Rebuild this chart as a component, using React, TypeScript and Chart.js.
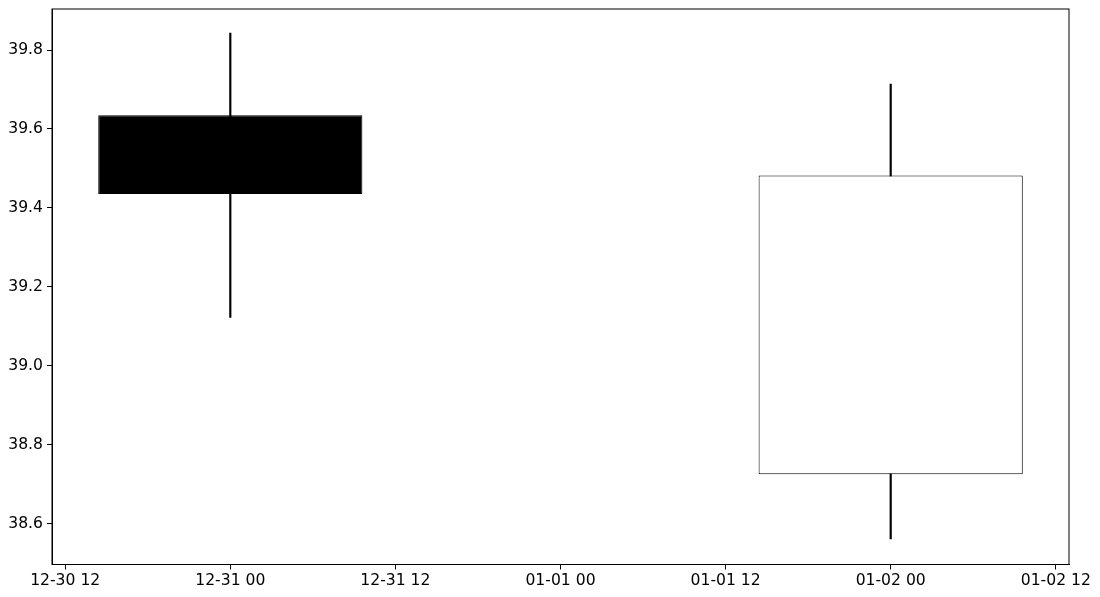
import { useEffect, useRef } from 'react'
import { Chart, registerables } from 'chart.js'

Chart.register(...registerables)

// hours measured from 12-31 00:00
const candleHours = [0, 48]
const openPrices = [39.635, 38.725]
const closePrices = [39.435, 39.482]
const highPrices = [39.843, 39.714]
const lowPrices = [39.122, 38.561]

const xTickHours = [-12, 0, 12, 24, 36, 48, 60]
const xTickLabels = ['12-30 12', '12-31 00', '12-31 12', '01-01 00', '01-01 12', '01-02 00', '01-02 12']
const yTickValues = [38.6, 38.8, 39.0, 39.2, 39.4, 39.6, 39.8]

const FONT = { family: "'DejaVu Sans', sans-serif", size: 15.6 }

const framePlugin = {
  id: 'frame',
  afterDraw(chart: Chart) {
    const { ctx, chartArea } = chart
    ctx.save()
    ctx.strokeStyle = '#000'
    ctx.lineWidth = 1
    ctx.strokeRect(chartArea.left, chartArea.top, chartArea.right - chartArea.left, chartArea.bottom - chartArea.top)
    ctx.restore()
  },
}

export default function App() {
  const chartRef = useRef<HTMLCanvasElement>(null)
  const chartInstance = useRef<Chart | null>(null)

  useEffect(() => {
    document.body.style.margin = '0'
    if (!chartRef.current) return
    if (chartInstance.current) chartInstance.current.destroy()
    const ctx = chartRef.current.getContext('2d')
    if (!ctx) return

    const bodies = candleHours.map((h, i) => ({ x: h, y: [openPrices[i], closePrices[i]] }))
    const wicks = candleHours.map((h, i) => ({ x: h, y: [lowPrices[i], highPrices[i]] }))
    const bodyFill = candleHours.map((_, i) => (closePrices[i] >= openPrices[i] ? '#ffffff' : '#000000'))

    chartInstance.current = new Chart(ctx, {
      type: 'bar',
      data: {
        datasets: [
          {
            data: bodies as any,
            backgroundColor: bodyFill,
            borderColor: '#000',
            borderWidth: 1,
            borderSkipped: false,
            grouped: false,
            barPercentage: 1.6,
            categoryPercentage: 1,
            order: 0,
          },
          {
            data: wicks as any,
            backgroundColor: '#000',
            borderWidth: 0,
            grouped: false,
            barThickness: 1.5,
            order: 1,
          },
        ],
      },
      plugins: [framePlugin],
      options: {
        responsive: true,
        maintainAspectRatio: false,
        animation: false,
        layout: { padding: { top: 9, right: 31, left: 0, bottom: 0 } },
        plugins: {
          legend: { display: false },
          tooltip: { enabled: false },
        },
        scales: {
          x: {
            type: 'linear',
            min: -12.96,
            max: 60.96,
            offset: false,
            afterBuildTicks: (axis: any) => {
              axis.ticks = xTickHours.map((v) => ({ value: v }))
            },
            afterFit: (axis: any) => {
              axis.height = 32.5
              axis.paddingLeft = 0
              axis.paddingRight = 0
            },
            grid: {
              display: true,
              drawOnChartArea: false,
              drawTicks: true,
              tickLength: 5,
              tickColor: '#000',
              offset: false,
            },
            border: { display: true, color: '#000', width: 1 },
            ticks: {
              color: '#000',
              font: FONT,
              padding: 2,
              maxRotation: 0,
              autoSkip: false,
              callback: (v: any) => {
                const idx = xTickHours.indexOf(Number(v))
                return idx >= 0 ? xTickLabels[idx] : ''
              },
            },
          },
          y: {
            type: 'linear',
            min: 38.496,
            max: 39.904,
            afterBuildTicks: (axis: any) => {
              axis.ticks = yTickValues.map((v) => ({ value: v }))
            },
            afterFit: (axis: any) => {
              axis.width = 52
              axis.paddingTop = 0
              axis.paddingBottom = 0
            },
            grid: {
              display: true,
              drawOnChartArea: false,
              drawTicks: true,
              tickLength: 5,
              tickColor: '#000',
            },
            border: { display: true, color: '#000', width: 1 },
            ticks: {
              color: '#000',
              font: FONT,
              padding: 4,
              callback: (v: any) => Number(v).toFixed(1),
            },
          },
        },
      },
    })

    return () => {
      if (chartInstance.current) {
        chartInstance.current.destroy()
        chartInstance.current = null
      }
    }
  }, [])

  return (
    <div style={{ width: 1100, height: 597, position: 'relative' }}>
      <canvas ref={chartRef} />
    </div>
  )
}
